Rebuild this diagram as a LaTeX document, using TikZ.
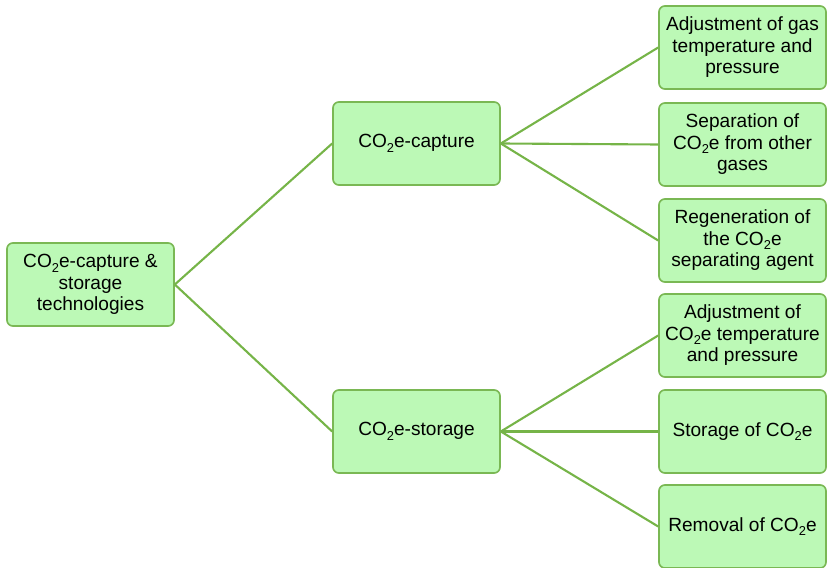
\documentclass[tikz,border=0pt]{standalone}
\usepackage{fontspec}
\setmainfont{Liberation Sans}
\definecolor{boxfill}{RGB}{188,249,182}
\definecolor{boxline}{RGB}{122,184,84}
\definecolor{linkline}{RGB}{118,180,72}
\newcommand{\COe}{CO\raisebox{-0.45ex}{\fontsize{11}{11}\selectfont 2}e}
\tikzset{
    techbox/.style={draw=boxline,line width=1.4pt,fill=boxfill,rounded corners=5pt,
        minimum width=5.01cm,minimum height=2.49cm,align=center,inner sep=1pt,
        font=\fontsize{16.3}{18.3}\selectfont},
    link/.style={draw=linkline,line width=1.8pt}
}
\begin{document}
\begin{tikzpicture}[x=0.03cm,y=-0.03cm]
                \useasboundingbox (0,0) rectangle (827,568);
                \node[techbox] (ccs) at (90.5,284.5) {\COe-capture \&\\storage\\technologies};
                \node[techbox] (capture) at (416.5,143.5) {\COe-capture};
                \node[techbox] (storage) at (416.5,431.5) {\COe-storage};
                \node[techbox] (gasadj) at (742.5,47.5) {Adjustment of gas\\temperature and\\pressure};
                \node[techbox] (separation) at (742.5,144.5) {Separation of\\\COe{} from other\\gases};
                \node[techbox] (regeneration) at (742.5,240.5) {Regeneration of\\the \COe\\separating agent};
                \node[techbox] (coadj) at (742.5,335.5) {Adjustment of\\\COe{} temperature\\and pressure};
                \node[techbox] (store) at (742.5,431.5) {Storage of \COe};
                \node[techbox] (removal) at (742.5,526.5) {Removal of \COe};
                \draw[link] (ccs.east) -- (capture.west);
                \draw[link] (ccs.east) -- (storage.west);
                \draw[link] (capture.east) -- (gasadj.west);
                \draw[link] (capture.east) -- (separation.west);
                \draw[link] (capture.east) -- (regeneration.west);
                \draw[link] (storage.east) -- (coadj.west);
                \draw[link] (storage.east) -- (store.west);
                \draw[link] (storage.east) -- (removal.west);
            \end{tikzpicture}
\end{document}
